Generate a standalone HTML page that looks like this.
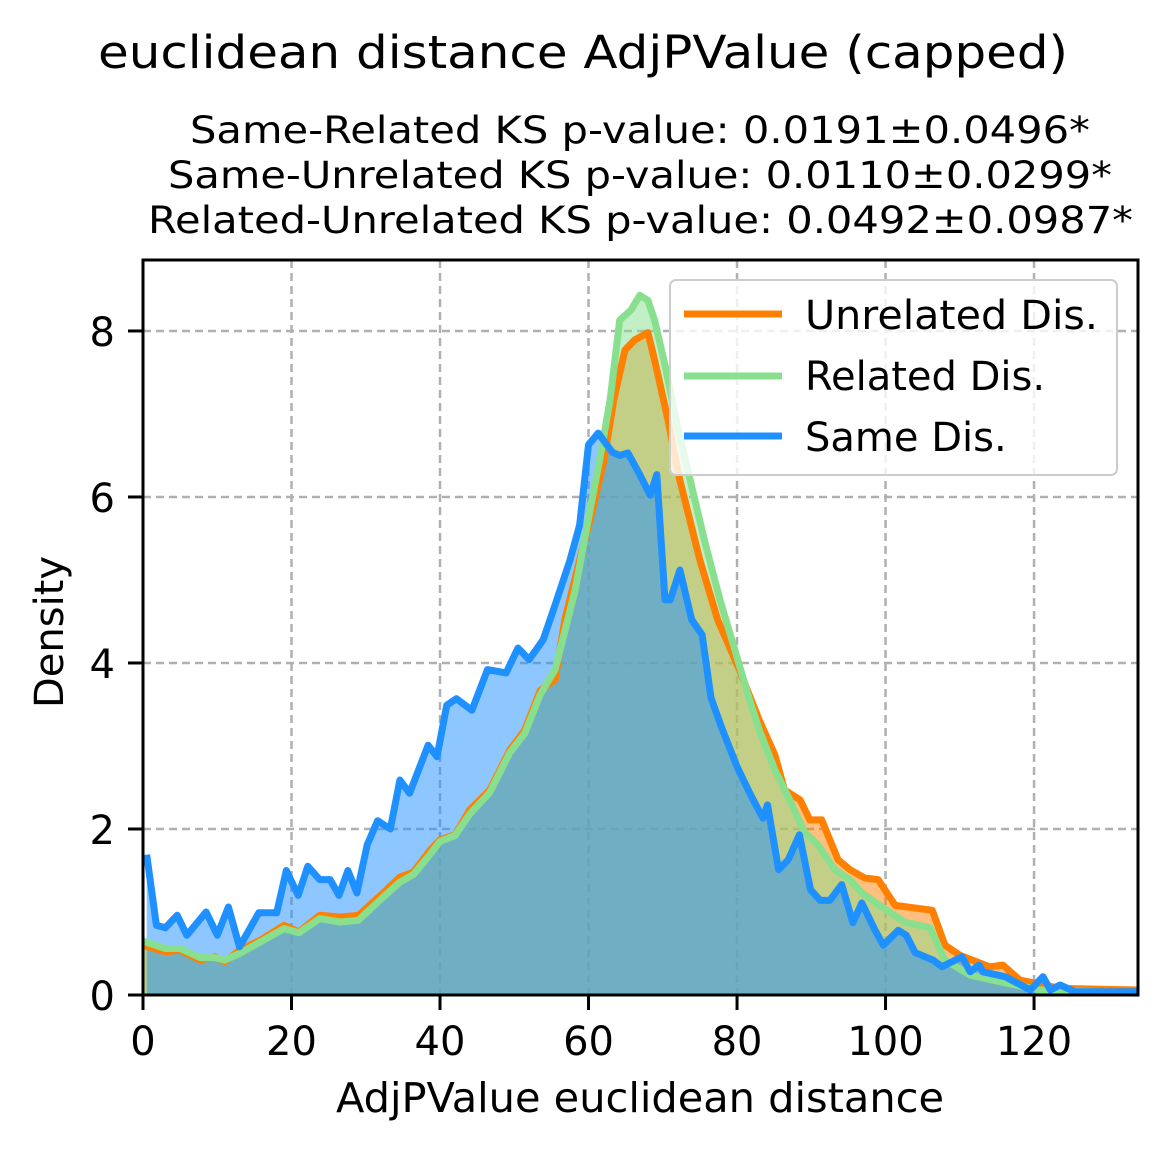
<!DOCTYPE html>
<html><head><meta charset="utf-8"><style>
body{margin:0;background:#fff;}
svg text{font-family:"DejaVu Sans","Liberation Sans",sans-serif;fill:#000;}
</style></head><body>
<svg id="chart" width="1167" height="1151" xmlns="http://www.w3.org/2000/svg">
<rect width="1167" height="1151" fill="#fff"/>
<text x="98" y="68" font-size="45" textLength="970" lengthAdjust="spacingAndGlyphs">euclidean distance AdjPValue (capped)</text>
<text x="190" y="143" font-size="37" textLength="900" lengthAdjust="spacingAndGlyphs">Same-Related KS p-value: 0.0191±0.0496*</text>
<text x="168" y="188" font-size="37" textLength="944" lengthAdjust="spacingAndGlyphs">Same-Unrelated KS p-value: 0.0110±0.0299*</text>
<text x="148" y="233" font-size="37" textLength="985" lengthAdjust="spacingAndGlyphs">Related-Unrelated KS p-value: 0.0492±0.0987*</text>
<g id="grid"></g>
<g id="fills"></g>
<g id="lines"></g>
<g id="axes"></g>
<g id="legend">
<rect x="670" y="280" width="447" height="195" rx="6" fill="#fff" fill-opacity="0.8" stroke="#ccc" stroke-width="2"/>
<line x1="684" y1="314" x2="782" y2="314" stroke="#ff8000" stroke-width="7"/>
<text x="805" y="329" font-size="40" textLength="293" lengthAdjust="spacingAndGlyphs">Unrelated Dis.</text>
<line x1="684" y1="376" x2="782" y2="376" stroke="#88e08f" stroke-width="7"/>
<text x="805" y="390" font-size="40">Related Dis.</text>
<line x1="684" y1="436" x2="782" y2="436" stroke="#1e90ff" stroke-width="7"/>
<text x="805" y="451" font-size="40">Same Dis.</text>
</g>
<text x="640" y="1112" font-size="41" text-anchor="middle" textLength="608" lengthAdjust="spacingAndGlyphs">AdjPValue euclidean distance</text>
<text transform="translate(63,632) rotate(-90)" font-size="40" text-anchor="middle">Density</text>
</svg>
<script>
const xTicks=[0,20,40,60,80,100,120];
const yTicks=[0,2,4,6,8];
const sameX=[0.5,1.8,3,4.6,5.9,8.5,10,11.5,13,15.6,18,19.3,20.9,22.2,23.8,25.2,26.4,27.6,28.8,30.2,31.6,33.3,34.6,35.9,38.4,39.6,40.9,42.2,44.3,46.4,48.9,50.5,52,53.9,55.5,57.5,58.8,60,61.3,63.2,64.2,65.3,66.9,68.3,69.2,70.3,71,72.3,73.9,75.3,76.5,77.9,80,81.9,83.5,84.1,85.6,86.9,88.4,89.9,91.2,92.5,94.1,95.6,96.8,98.6,99.7,101.7,102.8,104,106.4,107.6,110.3,111.4,112.6,113.1,116.1,119.5,121.2,122.2,123.5,125.5,134];
const sameY=[1.69,0.84,0.81,0.96,0.72,1.0,0.72,1.06,0.58,0.99,0.99,1.5,1.2,1.55,1.39,1.39,1.2,1.5,1.23,1.81,2.1,2.0,2.59,2.43,3.01,2.87,3.49,3.57,3.43,3.92,3.88,4.18,4.04,4.28,4.7,5.24,5.66,6.63,6.77,6.54,6.5,6.53,6.27,6.02,6.27,4.76,4.76,5.12,4.52,4.34,3.58,3.23,2.75,2.4,2.13,2.29,1.51,1.63,1.93,1.27,1.14,1.14,1.33,0.87,1.11,0.78,0.6,0.78,0.72,0.51,0.42,0.34,0.46,0.28,0.36,0.28,0.22,0.06,0.22,0.06,0.12,0.04,0.04];
const unrelX=[0,3,5,7.7,9.7,11,13,15.8,19,21,23.8,26.5,29,32,34.6,36.4,38.7,40,42,44,46.7,49.4,51.4,53.5,55.5,56.8,58.8,60.2,62.1,63.4,64.9,66.2,68,68.9,70.7,72.3,75,77.4,80.3,83,85.1,86.4,88.5,89.8,91.4,93.6,95.2,97.2,99,101.3,106.3,108,110,114,115.8,118.1,123.5,134];
const unrelY=[0.6,0.52,0.54,0.42,0.46,0.4,0.54,0.66,0.84,0.76,0.96,0.94,0.96,1.2,1.42,1.48,1.75,1.87,1.93,2.23,2.47,2.95,3.19,3.67,3.8,4.52,5.24,5.72,6.45,7.17,7.77,7.89,7.98,7.65,6.93,6.2,5.24,4.52,3.92,3.31,2.89,2.47,2.35,2.11,2.11,1.63,1.51,1.41,1.39,1.08,1.02,0.6,0.48,0.34,0.36,0.18,0.08,0.06];
const relX=[0,3,5,7.7,9.7,11,13,15.8,19,21,23.8,26.5,29,32,34.6,36.4,38.7,40,42,44,46.7,49.4,51.4,53.5,55.5,58.2,60.2,61.5,62.9,64.2,65.7,66.9,68,68.9,70.3,72.1,73.7,75.6,77.7,79.7,81.7,83,85.1,87.1,89.1,90.9,93.2,95.2,96.8,99.2,102.6,106,108,111.4,115.4,120.8,134];
const relY=[0.65,0.56,0.56,0.45,0.45,0.42,0.5,0.64,0.8,0.75,0.92,0.88,0.9,1.15,1.36,1.45,1.7,1.85,1.92,2.18,2.44,2.92,3.15,3.62,3.92,4.88,5.84,6.45,7.17,8.13,8.25,8.43,8.37,8.13,7.59,6.8,6.2,5.48,4.76,4.16,3.55,3.19,2.71,2.35,1.96,1.81,1.51,1.39,1.23,1.08,0.88,0.81,0.42,0.24,0.16,0.06,0.02];
const X0=143,X1=1138,Y0=995,Y1=260,XMAX=134.0,YMAX=8.855;
const sx=v=>X0+v/XMAX*(X1-X0);
const sy=v=>Y0-v/YMAX*(Y0-Y1);
const NS="http://www.w3.org/2000/svg";
function mk(tag,attrs,parent){const e=document.createElementNS(NS,tag);for(const k in attrs)e.setAttribute(k,attrs[k]);parent.appendChild(e);return e;}
const grid=document.getElementById('grid'),fills=document.getElementById('fills'),lines=document.getElementById('lines'),axes=document.getElementById('axes');
xTicks.forEach(t=>{
  const g=mk('line',{x1:sx(t),x2:sx(t),y1:Y1,y2:Y0,stroke:'#b0b0b0','stroke-width':2.5,'stroke-dasharray':'8,5'},grid);
  
  
  const tk=mk('line',{x1:sx(t),x2:sx(t),y1:Y0,y2:Y0+15,stroke:'#000','stroke-width':3},axes);
  
  
  const tx=mk('text',{x:sx(t),y:1055,'font-size':40,'text-anchor':'middle'},axes);
  tx.textContent=t;
  
  
});
yTicks.forEach(t=>{
  const g=mk('line',{x1:X0,x2:X1,y1:sy(t),y2:sy(t),stroke:'#b0b0b0','stroke-width':2.5,'stroke-dasharray':'8,5'},grid);
  
  
  const tk=mk('line',{x1:X0-15,x2:X0,y1:sy(t),y2:sy(t),stroke:'#000','stroke-width':3},axes);
  
  
  const tx=mk('text',{x:X0-28,y:sy(t)+15,'font-size':40,'text-anchor':'end'},axes);
  tx.textContent=t;
  
  
});
const fr=mk('rect',{x:X0,y:Y1,width:X1-X0,height:Y0-Y1,fill:'none',stroke:'#000','stroke-width':3},axes);


function series(xs,ys,color,name){
  const pts=xs.map((x,i)=>sx(x).toFixed(1)+','+sy(ys[i]).toFixed(1));
  const area=mk('polygon',{points:sx(xs[0])+','+Y0+' '+pts.join(' ')+' '+sx(xs[xs.length-1])+','+Y0,fill:color,'fill-opacity':0.5},fills);
  
  
  const ln=mk('polyline',{points:pts.join(' '),fill:'none',stroke:color,'stroke-width':7,'stroke-linejoin':'round'},lines);
  
  
}
series(unrelX,unrelY,'#ff8000','unrelated-dis');
series(relX,relY,'#88e08f','related-dis');
series(sameX,sameY,'#1e90ff','same-dis');
</script>
</body></html>
